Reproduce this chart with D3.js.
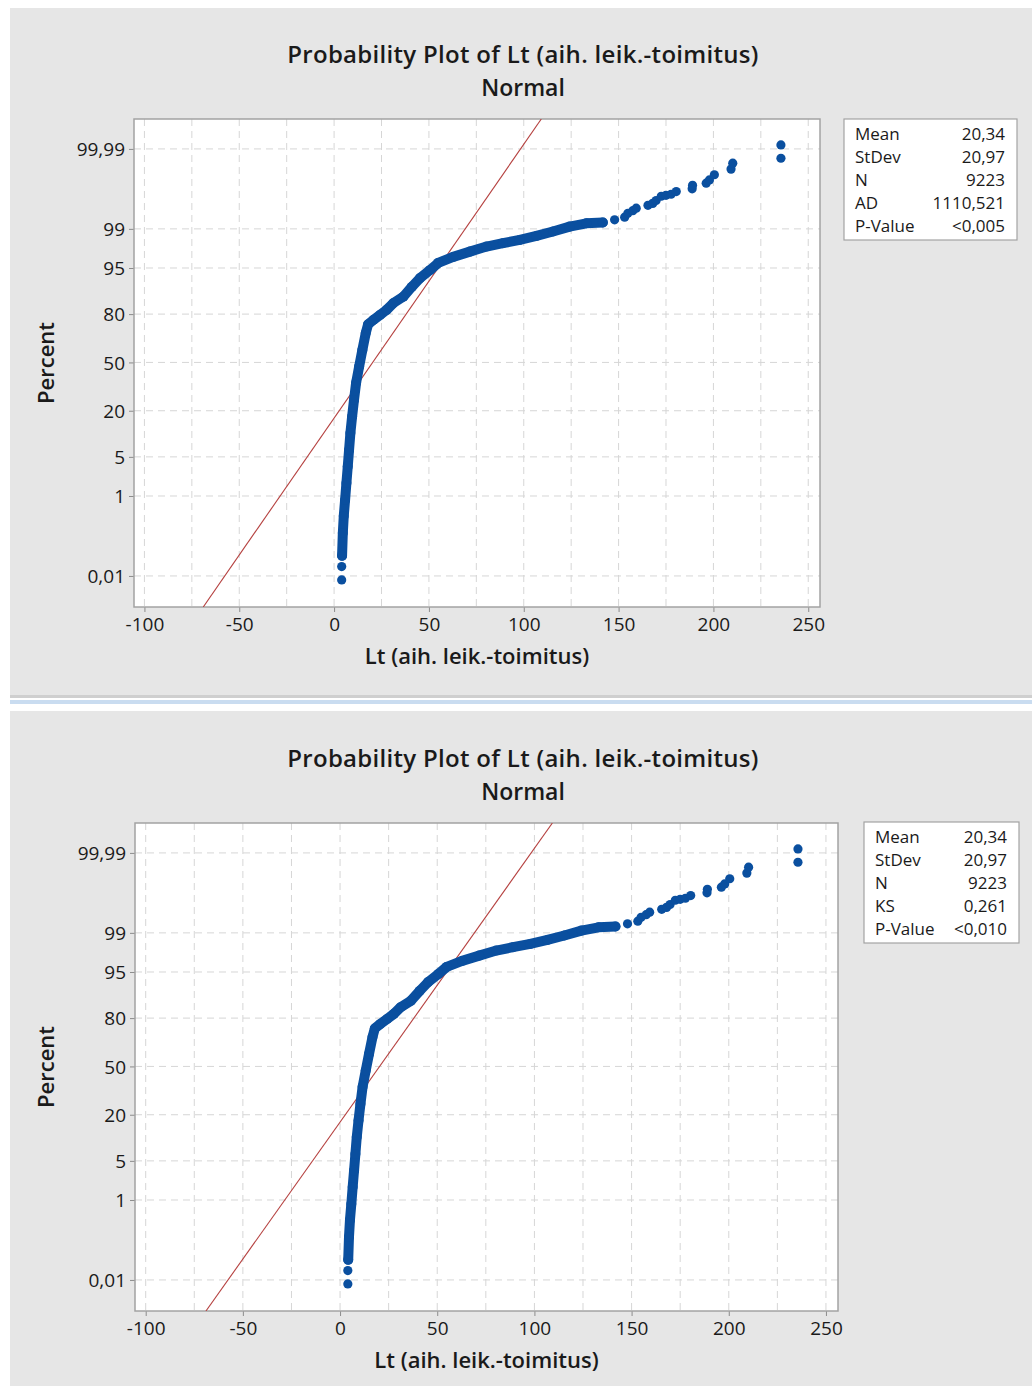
<!DOCTYPE html>
<html>
<head>
<meta charset="utf-8">
<script src="https://d3js.org/d3.v7.min.js"></script>
<style>
  body { margin: 0; background: #fff; }
  text { font-family: "Open Sans", "Noto Sans", sans-serif; fill: #1a1a1a; }
</style>
</head>
<body>
<div id="chart"></div>
<script>
// points: value of Lt and plotted percent
// dense part of the curve (drawn as a thick band of dots)
var bandValues   = [4.2, 4.6, 5.1, 5.8, 6.5, 7.2, 7.9, 8.6, 9.5, 10.5, 11.6, 13.2, 14.9, 16.7, 17.9,
                    20.7, 24.2, 27.7, 31.2, 36.5, 41.0, 45.3, 50.5, 54.9, 62.8, 71.6, 80.4, 89.0,
                    97.9, 106.7, 115.4, 124.2, 133.0, 141.7];
var bandPercents = [0.038, 0.149, 0.375, 0.83, 1.79, 3.48, 6.37, 10.97, 17.3, 25.7, 36.1, 47.1, 58.6, 69.6, 74.6,
                    77.0, 79.6, 82.0, 84.9, 87.4, 90.6, 92.9, 94.6, 95.85, 96.7, 97.32, 97.82, 98.11,
                    98.36, 98.62, 98.87, 99.10, 99.23, 99.26];
// single dots at both ends
var dotValues   = [4.0, 4.0, 147.9, 153.2, 154.9, 157.5, 159.3, 165.5, 168.0, 169.8, 172.5, 175.0, 177.7,
                   180.4, 188.8, 189.0, 196.2, 197.9, 200.5, 209.3, 210.2, 235.6, 235.6];
var dotPercents = [0.0076, 0.0188, 99.35, 99.43, 99.53, 99.59, 99.64, 99.69, 99.72, 99.76, 99.81, 99.82, 99.83,
                   99.854, 99.875, 99.898, 99.910, 99.926, 99.946, 99.962, 99.974, 99.9812, 99.9924];

var fitMean = 20.34, fitStDev = 20.97;

var xTicks = [-100, -50, 0, 50, 100, 150, 200, 250];
var xGrid = [-100, -75, -50, -25, 0, 25, 50, 75, 100, 125, 150, 175, 200, 225, 250];
var yTickPercents = [0.01, 1, 5, 20, 50, 80, 95, 99, 99.99];

var legendLabels1 = ["Mean", "StDev", "N", "AD", "P-Value"];
var legendValues1 = ["20,34", "20,97", "9223", "1110,521", "<0,005"];
var legendLabels2 = ["Mean", "StDev", "N", "KS", "P-Value"];
var legendValues2 = ["20,34", "20,97", "9223", "0,261", "<0,010"];

var titleText = "Probability Plot of Lt (aih. leik.-toimitus)";
var subTitle = "Normal";
var xLabel = "Lt (aih. leik.-toimitus)";
var yLabel = "Percent";

// finnish style decimals, plain hyphen for minus
var fi = d3.formatLocale({decimal: ",", thousands: " ", grouping: [3], currency: ["", ""], minus: "-"});
var fmtPct = function(p) { return fi.format("~g")(p); };
var fmtX = fi.format("d");

// inverse normal cdf (Acklam)
function probit(p) {
  var a = [-3.969683028665376e+01, 2.209460984245205e+02, -2.759285104469687e+02, 1.383577518672690e+02, -3.066479806614716e+01, 2.506628277459239e+00];
  var b = [-5.447609879822406e+01, 1.615858368580409e+02, -1.556989798598866e+02, 6.680131188771972e+01, -1.328068155288572e+01];
  var c = [-7.784894002430293e-03, -3.223964580411365e-01, -2.400758277161838e+00, -2.549732539343734e+00, 4.374664141464968e+00, 2.938163982698783e+00];
  var d = [7.784695709041462e-03, 3.224671290700398e-01, 2.445134137142996e+00, 3.754408661907416e+00];
  var pl = 0.02425, q, r;
  if (p < pl) {
    q = Math.sqrt(-2 * Math.log(p));
    return (((((c[0]*q+c[1])*q+c[2])*q+c[3])*q+c[4])*q+c[5]) / ((((d[0]*q+d[1])*q+d[2])*q+d[3])*q+1);
  }
  if (p > 1 - pl) {
    q = Math.sqrt(-2 * Math.log(1 - p));
    return -(((((c[0]*q+c[1])*q+c[2])*q+c[3])*q+c[4])*q+c[5]) / ((((d[0]*q+d[1])*q+d[2])*q+d[3])*q+1);
  }
  q = p - 0.5; r = q * q;
  return (((((a[0]*r+a[1])*r+a[2])*r+a[3])*r+a[4])*r+a[5])*q / (((((b[0]*r+b[1])*r+b[2])*r+b[3])*r+b[4])*r+1);
}

var W = 1032, H = 1386;
var svg = d3.select("#chart").append("svg")
  .attr("width", W).attr("height", H);

// background: two minitab graph windows with a divider between them
svg.append("rect").attr("x", 10).attr("y", 8).attr("width", W - 10).attr("height", 687).attr("fill", "#e6e6e6");
svg.append("rect").attr("x", 10).attr("y", 695).attr("width", W - 10).attr("height", 3).attr("fill", "#cfcfcf");
svg.append("rect").attr("x", 10).attr("y", 700).attr("width", W - 10).attr("height", 4).attr("fill", "#c9dcf0");
svg.append("rect").attr("x", 10).attr("y", 711).attr("width", W - 10).attr("height", H - 711).attr("fill", "#e6e6e6");

var panels = [
  {id: "p1", left: 134, right: 820, top: 119, bottom: 607,
   legend: {x: 844, y: 119, w: 173, h: 121}, labels: legendLabels1, values: legendValues1},
  {id: "p2", left: 135, right: 838, top: 823, bottom: 1311,
   legend: {x: 864, y: 822, w: 155, h: 121}, labels: legendLabels2, values: legendValues2}
];

panels.forEach(drawPanel);

function drawPanel(p) {
  var x = d3.scaleLinear().domain([-105.5, 256.2]).range([p.left, p.right]);
  var y = d3.scaleLinear().domain([-4.26, 4.24]).range([p.bottom, p.top]);
  var yp = function(pct) { return y(probit(pct / 100)); };
  var g = svg.append("g");

  // titles
  var cx = 523;
  g.append("text").attr("x", cx).attr("y", p.top - 66).attr("text-anchor", "middle")
    .attr("dominant-baseline", "central").style("font-size", "24px").style("font-weight", 600)
    .style("letter-spacing", "0.3px").text(titleText);
  g.append("text").attr("x", cx).attr("y", p.top - 32).attr("text-anchor", "middle")
    .attr("dominant-baseline", "central").style("font-size", "23px").style("font-weight", 600).text(subTitle);

  // plot area
  g.append("rect").attr("x", p.left).attr("y", p.top)
    .attr("width", p.right - p.left).attr("height", p.bottom - p.top).attr("fill", "#fff");

  g.append("clipPath").attr("id", "clip-" + p.id).append("rect")
    .attr("x", p.left).attr("y", p.top).attr("width", p.right - p.left).attr("height", p.bottom - p.top);

  // dashed grid
  g.selectAll(".vgrid").data(xGrid).enter().append("line")
    .attr("x1", function(d) { return x(d); }).attr("x2", function(d) { return x(d); })
    .attr("y1", p.top).attr("y2", p.bottom)
    .attr("stroke", "#d6d6d6").attr("stroke-dasharray", "7,5");
  g.selectAll(".hgrid").data(yTickPercents).enter().append("line")
    .attr("x1", p.left).attr("x2", p.right)
    .attr("y1", function(d) { return yp(d); }).attr("y2", function(d) { return yp(d); })
    .attr("stroke", "#d6d6d6").attr("stroke-dasharray", "7,5");

  // axes
  var xAxis = d3.axisBottom(x).tickValues(xTicks).tickFormat(fmtX).tickSize(5).tickPadding(3);
  var gx = g.append("g").attr("transform", "translate(0," + p.bottom + ")").call(xAxis);
  var yAxis = d3.axisLeft(d3.scaleLinear().domain(y.domain()).range(y.range()))
    .tickValues(yTickPercents.map(function(d) { return probit(d / 100); }))
    .tickFormat(function(d, i) { return fmtPct(yTickPercents[i]); })
    .tickSize(5).tickPadding(4);
  var gy = g.append("g").attr("transform", "translate(" + p.left + ",0)").call(yAxis);
  [gx, gy].forEach(function(a) {
    a.select(".domain").remove();
    a.selectAll(".tick line").attr("stroke", "#8c8c8c");
    a.selectAll(".tick text").style("font-size", "19px").style("font-weight", 500)
      .style("font-family", "\"Open Sans\", sans-serif").attr("fill", "#1a1a1a");
  });
  gx.selectAll(".tick text").attr("dy", "0.85em");
  gy.selectAll(".tick text").attr("dy", "0.35em");

  // frame
  g.append("rect").attr("x", p.left).attr("y", p.top)
    .attr("width", p.right - p.left).attr("height", p.bottom - p.top)
    .attr("fill", "none").attr("stroke", "#a3a3a3").attr("stroke-width", 1.5);

  var plot = g.append("g").attr("clip-path", "url(#clip-" + p.id + ")");

  // fitted normal line
  var zEnds = y.domain();
  plot.append("path")
    .datum(zEnds)
    .attr("d", d3.line()
      .x(function(z) { return x(fitMean + z * fitStDev); })
      .y(function(z) { return y(z); }))
    .attr("fill", "none").attr("stroke", "#b5403f").attr("stroke-width", 1.1);

  // data
  var blue = "#0a4f9f";
  var band = bandValues.map(function(v, i) { return [v, bandPercents[i]]; });
  plot.append("path").datum(band)
    .attr("d", d3.line().x(function(d) { return x(d[0]); }).y(function(d) { return yp(d[1]); }))
    .attr("fill", "none").attr("stroke", blue).attr("stroke-width", 10)
    .attr("stroke-linejoin", "round").attr("stroke-linecap", "round");
  plot.selectAll(".bdot").data(band).enter().append("circle")
    .attr("cx", function(d) { return x(d[0]); })
    .attr("cy", function(d) { return yp(d[1]); })
    .attr("r", 5).attr("fill", blue);
  var dots = dotValues.map(function(v, i) { return [v, dotPercents[i]]; });
  plot.selectAll(".dot").data(dots).enter().append("circle")
    .attr("cx", function(d) { return x(d[0]); })
    .attr("cy", function(d) { return yp(d[1]); })
    .attr("r", 4.6).attr("fill", blue);

  // axis titles
  g.append("text").attr("x", (p.left + p.right) / 2).attr("y", p.bottom + 48)
    .attr("text-anchor", "middle").attr("dominant-baseline", "central")
    .style("font-size", "22px").style("font-weight", 600).text(xLabel);
  g.append("text")
    .attr("transform", "translate(45," + (p.top + p.bottom) / 2 + ") rotate(-90)")
    .attr("text-anchor", "middle").attr("dominant-baseline", "central")
    .style("font-size", "22px").style("font-weight", 600).text(yLabel);

  // legend table
  var L = p.legend;
  g.append("rect").attr("x", L.x).attr("y", L.y).attr("width", L.w).attr("height", L.h)
    .attr("fill", "#fff").attr("stroke", "#a3a3a3").attr("stroke-width", 1.2);
  p.labels.forEach(function(lab, i) {
    var ry = L.y + 14 + i * 23;
    g.append("text").attr("x", L.x + 11).attr("y", ry).attr("dominant-baseline", "central")
      .style("font-size", "17px").style("font-weight", 500).text(lab);
    g.append("text").attr("x", L.x + L.w - 12).attr("y", ry).attr("dominant-baseline", "central")
      .attr("text-anchor", "end").style("font-size", "17px").style("font-weight", 500).text(p.values[i]);
  });
}
</script>
</body>
</html>
